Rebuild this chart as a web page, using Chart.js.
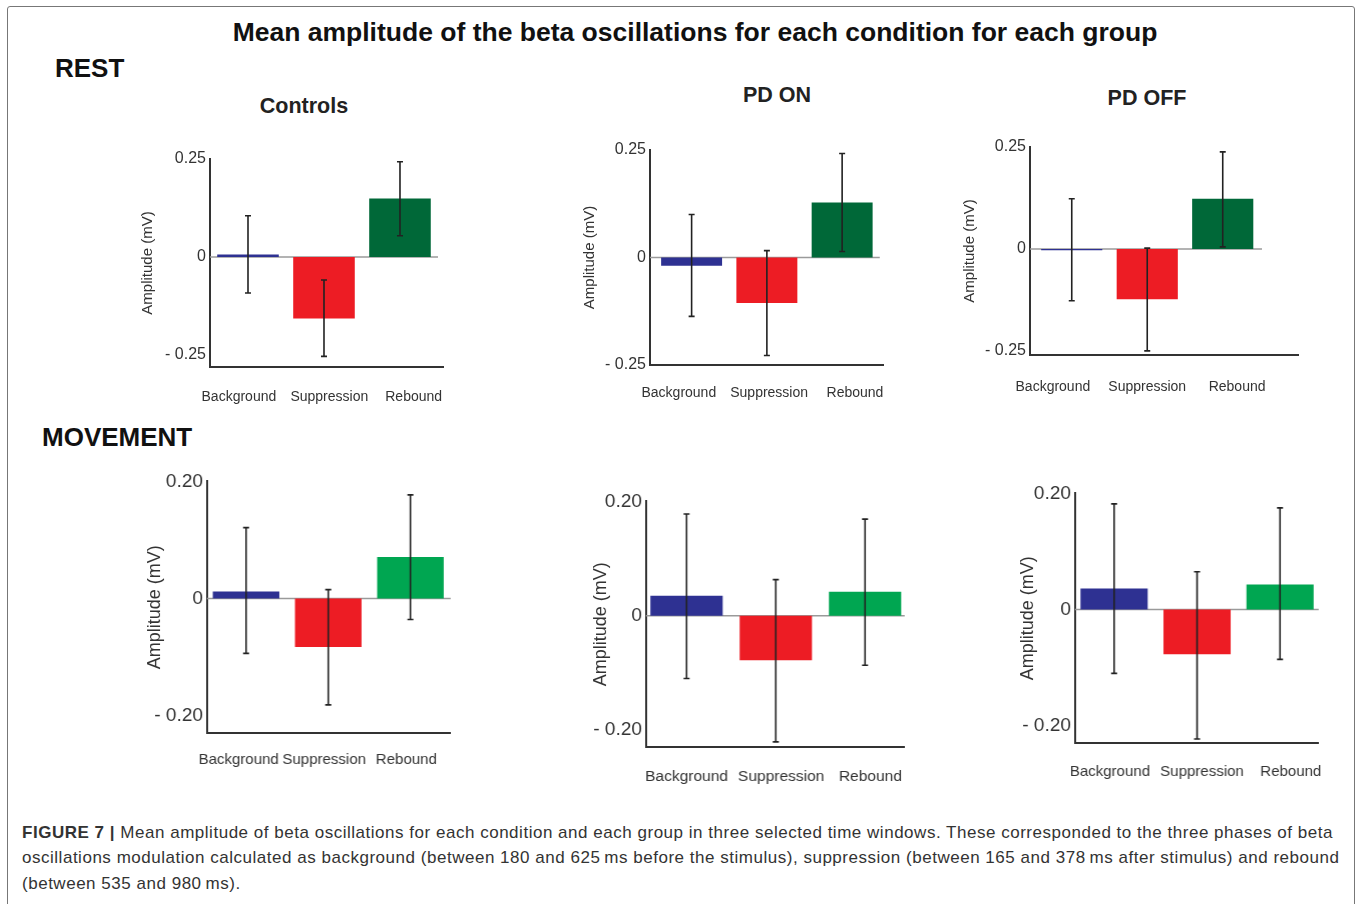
<!DOCTYPE html>
<html>
<head>
<meta charset="utf-8">
<script src="https://cdn.jsdelivr.net/npm/chart.js@4.4.0/dist/chart.umd.min.js"></script>
<style>
  body { margin: 0; background: #fff; width: 1358px; height: 904px; overflow: hidden; position: relative;
         font-family: "Liberation Sans", Arial, sans-serif; }
  .frame { position: absolute; left: 7px; top: 6px; width: 1346px; height: 920px; border: 1.5px solid #777; border-radius: 3px; }
  .t { position: absolute; white-space: nowrap; font-weight: bold; color: #111; transform: translate(-50%, -50%); }
  .h { position: absolute; white-space: nowrap; font-weight: bold; color: #111; transform: translateY(-50%); font-size: 26px; }
  .cap { position: absolute; left: 22px; white-space: nowrap; font-size: 17px; letter-spacing: 0.52px; color: #333; transform: translateY(-50%); }
  .box { position: absolute; }
</style>
</head>
<body>
<div class="frame"></div>
<div class="t" style="left:695px;top:32px;font-size:26.5px;">Mean amplitude of the beta oscillations for each condition for each group</div>
<div class="h" style="left:55px;top:68px;">REST</div>
<div class="h" style="left:42px;top:437px;">MOVEMENT</div>
<div class="t" style="left:304px;top:106px;font-size:21.5px;color:#222;">Controls</div>
<div class="t" style="left:777px;top:95px;font-size:21.5px;color:#222;">PD ON</div>
<div class="t" style="left:1147px;top:98px;font-size:21.5px;color:#222;">PD OFF</div>

<div id="c1" class="box"><canvas></canvas></div>
<div id="c2" class="box"><canvas></canvas></div>
<div id="c3" class="box"><canvas></canvas></div>
<div id="c4" class="box"><canvas></canvas></div>
<div id="c5" class="box"><canvas></canvas></div>
<div id="c6" class="box"><canvas></canvas></div>

<div class="cap" style="top:833px;"><b>FIGURE 7 |</b> Mean amplitude of beta oscillations for each condition and each group in three selected time windows. These corresponded to the three phases of beta</div>
<div class="cap" style="top:858px;">oscillations modulation calculated as background (between 180 and 625&#8201;ms before the stimulus), suppression (between 165 and 378&#8201;ms after stimulus) and rebound</div>
<div class="cap" style="top:884px;">(between 535 and 980&#8201;ms).</div>

<script>
// DATA
const categories = ["Background", "Suppression", "Rebound"];

// rest condition
const controls_rest_mean = [0.006, -0.157, 0.149];
const controls_rest_low = [-0.092, -0.254, 0.054];
const controls_rest_high = [0.105, -0.059, 0.243];

const pdon_rest_mean = [-0.019, -0.106, 0.128];
const pdon_rest_low = [-0.137, -0.228, 0.014];
const pdon_rest_high = [0.100, 0.016, 0.242];

const pdoff_rest_mean = [-0.003, -0.123, 0.123];
const pdoff_rest_low = [-0.127, -0.250, 0.005];
const pdoff_rest_high = [0.123, 0.002, 0.238];

// movement condition
const controls_mov_mean = [0.012, -0.083, 0.071];
const controls_mov_low = [-0.094, -0.182, -0.036];
const controls_mov_high = [0.121, 0.015, 0.177];

const pdon_mov_mean = [0.035, -0.078, 0.042];
const pdon_mov_low = [-0.110, -0.221, -0.087];
const pdon_mov_high = [0.178, 0.063, 0.169];

const pdoff_mov_mean = [0.036, -0.077, 0.043];
const pdoff_mov_low = [-0.110, -0.223, -0.086];
const pdoff_mov_high = [0.182, 0.065, 0.175];

const rest_ticks = [0.25, 0, -0.25];
const rest_tick_labels = ["0.25", "0", "- 0.25"];
const mov_ticks = [0.2, 0, -0.2];
const mov_tick_labels = ["0.20", "0", "- 0.20"];

const rest_colors = ["#2e3192", "#ed1c24", "#006838"];
const mov_colors = ["#2e3192", "#ed1c24", "#00a651"];

// PANEL LAYOUT (pixel boxes of each plot on the page, label spots in x units)
const panels = [
  { id: "c1", mean: controls_rest_mean, low: controls_rest_low, high: controls_rest_high,
    colors: rest_colors, ticks: rest_ticks, tickLabels: rest_tick_labels, labelAt: [-0.12, 1.07, 2.18],
    plotLeft: 210, plotTop: 159, plotRight: 443, plotBottom: 367, titleX: 148, labelY: 397,
    yMin: -0.281, yMax: 0.25, xMin: -0.5, xMax: 2.566, zeroEnd: 2.5,
    tickFont: 16, labelFont: 14, titleFont: 15 },
  { id: "c2", mean: pdon_rest_mean, low: pdon_rest_low, high: pdon_rest_high,
    colors: rest_colors, ticks: rest_ticks, tickLabels: rest_tick_labels, labelAt: [-0.17, 1.03, 2.17],
    plotLeft: 650, plotTop: 150, plotRight: 883, plotBottom: 365, titleX: 590, labelY: 393,
    yMin: -0.25, yMax: 0.25, xMin: -0.553, xMax: 2.543, zeroEnd: 2.5,
    tickFont: 16, labelFont: 14, titleFont: 15 },
  { id: "c3", mean: pdoff_rest_mean, low: pdoff_rest_low, high: pdoff_rest_high,
    colors: rest_colors, ticks: rest_ticks, tickLabels: rest_tick_labels, labelAt: [-0.25, 1.0, 2.19],
    plotLeft: 1030, plotTop: 147, plotRight: 1298, plotBottom: 355, titleX: 970, labelY: 387,
    yMin: -0.26, yMax: 0.25, xMin: -0.553, xMax: 2.997, zeroEnd: 2.52,
    tickFont: 16, labelFont: 14, titleFont: 15 },
  { id: "c4", mean: controls_mov_mean, low: controls_mov_low, high: controls_mov_high,
    colors: mov_colors, ticks: mov_ticks, tickLabels: mov_tick_labels, labelAt: [-0.09, 0.95, 1.95],
    plotLeft: 207, plotTop: 480, plotRight: 450, plotBottom: 733, titleX: 155, labelY: 760,
    yMin: -0.23, yMax: 0.2, xMin: -0.476, xMax: 2.49, zeroEnd: 2.49,
    tickFont: 19, labelFont: 15, titleFont: 18 },
  { id: "c5", mean: pdon_mov_mean, low: pdon_mov_low, high: pdon_mov_high,
    colors: mov_colors, ticks: mov_ticks, tickLabels: mov_tick_labels, labelAt: [0.0, 1.06, 2.06],
    plotLeft: 646, plotTop: 500, plotRight: 904, plotBottom: 747, titleX: 601, labelY: 777,
    yMin: -0.23, yMax: 0.2, xMin: -0.455, xMax: 2.444, zeroEnd: 2.444,
    tickFont: 19, labelFont: 15.5, titleFont: 18 },
  { id: "c6", mean: pdoff_mov_mean, low: pdoff_mov_low, high: pdoff_mov_high,
    colors: mov_colors, ticks: mov_ticks, tickLabels: mov_tick_labels, labelAt: [-0.05, 1.06, 2.13],
    plotLeft: 1075, plotTop: 492, plotRight: 1318, plotBottom: 743, titleX: 1028, labelY: 772,
    yMin: -0.23, yMax: 0.2, xMin: -0.472, xMax: 2.466, zeroEnd: 2.466,
    tickFont: 19, labelFont: 15, titleFont: 18 },
];

// ZERO LINE + ERROR BARS
const errorBars = {
  id: "errorBars",
  beforeDatasetsDraw(chart, args, opts) {
    const { ctx, chartArea, scales: { x, y } } = chart;
    const y0 = y.getPixelForValue(0);
    ctx.save();
    ctx.strokeStyle = "#9a9a9a";
    ctx.lineWidth = 1.5;
    ctx.beginPath();
    ctx.moveTo(chartArea.left, y0);
    ctx.lineTo(x.getPixelForValue(opts.zeroEnd), y0);
    ctx.stroke();
    ctx.restore();
  },
  afterDatasetsDraw(chart, args, opts) {
    const { ctx, scales: { x, y } } = chart;
    ctx.save();
    ctx.strokeStyle = "#222";
    ctx.lineWidth = 1.6;
    opts.low.forEach((lo, i) => {
      const xi = x.getPixelForValue(i);
      const yl = y.getPixelForValue(lo);
      const yh = y.getPixelForValue(opts.high[i]);
      ctx.beginPath();
      ctx.moveTo(xi, yh); ctx.lineTo(xi, yl);
      ctx.moveTo(xi - 3, yh); ctx.lineTo(xi + 3, yh);
      ctx.moveTo(xi - 3, yl); ctx.lineTo(xi + 3, yl);
      ctx.stroke();
    });
    ctx.restore();
  },
};

function makePanel(p) {
  const box = document.getElementById(p.id);
  const left = p.titleX - p.titleFont * 0.6;
  const top = p.plotTop - 14;
  // room on the right so the x label padding never squeezes the plot
  const rightPad = 60;
  const xH = p.labelY - p.plotBottom + 14;
  box.style.left = left + "px";
  box.style.top = top + "px";
  box.style.width = (p.plotRight - left + rightPad) + "px";
  box.style.height = (p.plotBottom - top + xH) + "px";

  new Chart(box.querySelector("canvas"), {
    type: "bar",
    data: {
      datasets: [{
        data: p.mean.map((v, i) => ({ x: i, y: v })),
        backgroundColor: p.colors,
        borderWidth: 0,
        barPercentage: 0.81,
        categoryPercentage: 1,
      }],
    },
    options: {
      responsive: true,
      maintainAspectRatio: false,
      animation: false,
      layout: { padding: { top: 14, right: rightPad, left: 0, bottom: 0 } },
      plugins: {
        legend: { display: false },
        tooltip: { enabled: false },
        errorBars: { low: p.low, high: p.high, zeroEnd: p.zeroEnd },
      },
      scales: {
        x: {
          type: "linear",
          offset: false,
          min: p.xMin,
          max: p.xMax,
          grid: { display: false, drawTicks: false },
          border: { display: true, color: "#333", width: 2 },
          afterBuildTicks: (s) => { s.ticks = p.labelAt.map((v) => ({ value: v })); },
          afterFit: (s) => { s.height = xH; },
          ticks: {
            autoSkip: false,
            maxRotation: 0,
            padding: p.labelY - p.plotBottom - p.labelFont * 0.6,
            color: "#333",
            font: { family: "Liberation Sans, Arial, sans-serif", size: p.labelFont },
            callback: (v, i) => categories[i],
          },
        },
        y: {
          min: p.yMin,
          max: p.yMax,
          grid: { display: false, drawTicks: false },
          border: { display: true, color: "#333", width: 2 },
          afterBuildTicks: (s) => { s.ticks = p.ticks.map((v) => ({ value: v })); },
          afterFit: (s) => { s.width = p.plotLeft - left; },
          ticks: {
            padding: 4,
            color: "#333",
            font: { family: "Liberation Sans, Arial, sans-serif", size: p.tickFont },
            callback: (v, i) => p.tickLabels[i],
          },
          title: {
            display: true,
            text: "Amplitude (mV)",
            color: "#333",
            padding: 0,
            font: { family: "Liberation Sans, Arial, sans-serif", size: p.titleFont },
          },
        },
      },
    },
    plugins: [errorBars],
  });
}

panels.forEach(makePanel);
</script>
</body>
</html>
